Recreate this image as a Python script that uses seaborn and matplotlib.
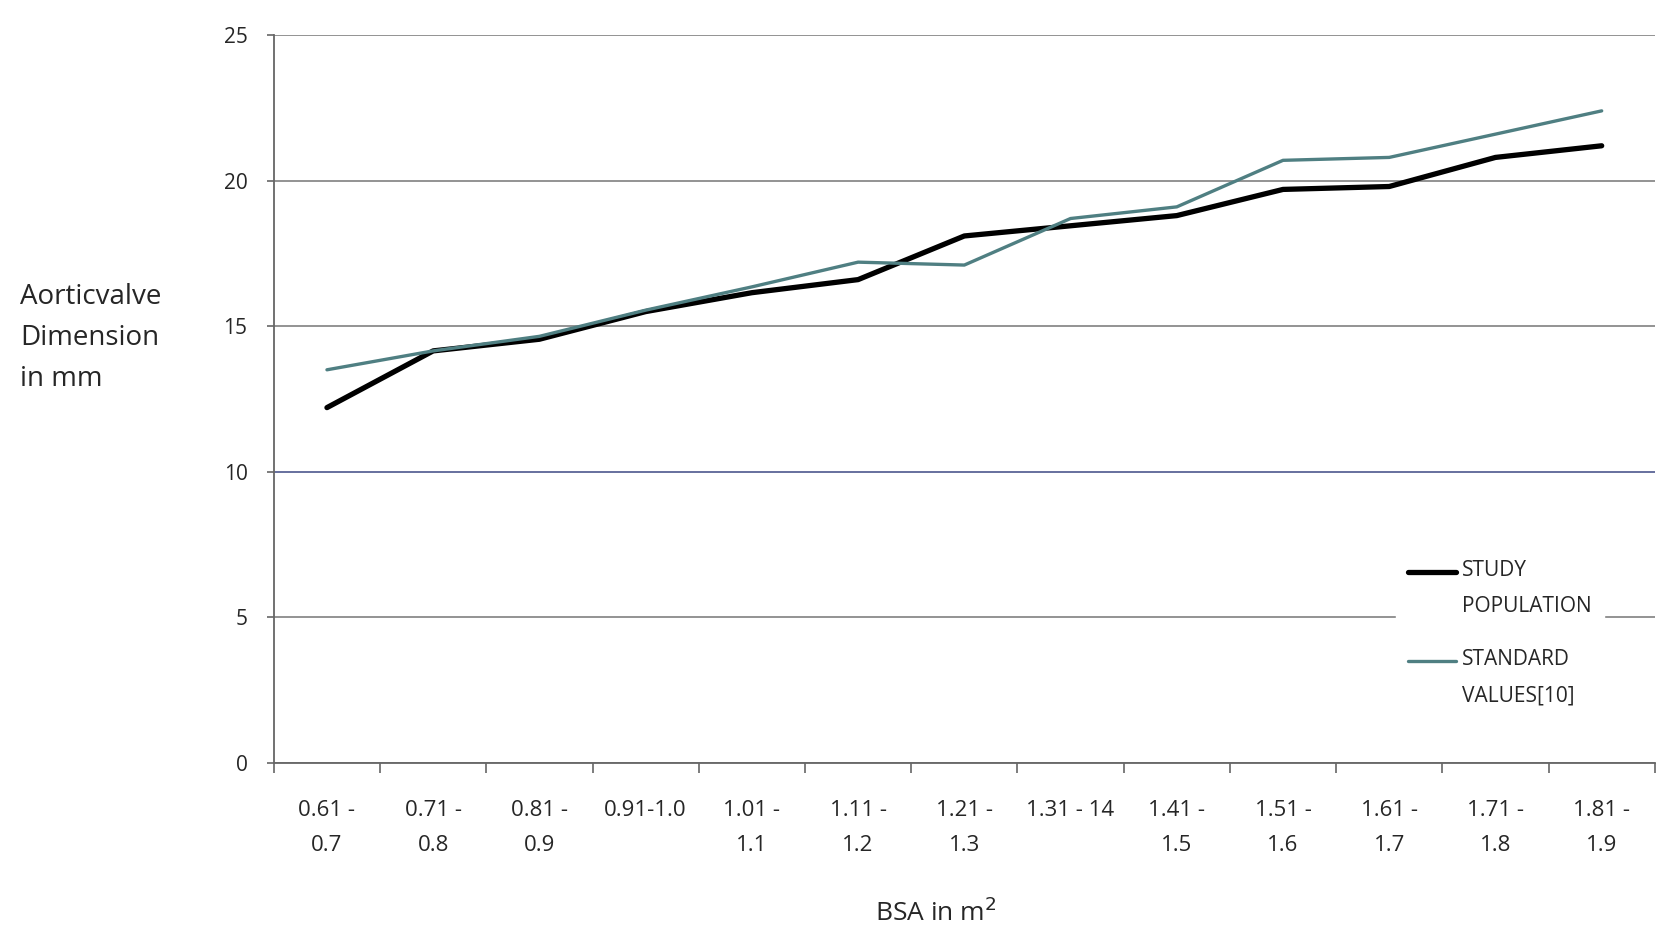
import numpy as np
import pandas as pd
import matplotlib
matplotlib.use("Agg")
import matplotlib.pyplot as plt
import seaborn as sns

# BSA ranges (category order) and the two series
bsa_ranges = ["0.61 -\n0.7", "0.71 -\n0.8", "0.81 -\n0.9", "0.91-1.0", "1.01 -\n1.1",
              "1.11 -\n1.2", "1.21 -\n1.3", "1.31 - 14", "1.41 -\n1.5", "1.51 -\n1.6",
              "1.61 -\n1.7", "1.71 -\n1.8", "1.81 -\n1.9"]
study_population = [12.2, 14.15, 14.55, 15.5, 16.15, 16.6, 18.1, 18.45, 18.8, 19.7, 19.8, 20.8, 21.2]
standard_values = [13.5, 14.15, 14.65, 15.55, 16.35, 17.2, 17.1, 18.7, 19.1, 20.7, 20.8, 21.6, 22.4]
series_names = ["STUDY\nPOPULATION", "STANDARD\nVALUES[10]"]
y_ticks = [0, 5, 10, 15, 20, 25]

df = pd.DataFrame({
    "BSA": bsa_ranges * 2,
    "dim": study_population + standard_values,
    "series": [series_names[0]] * len(bsa_ranges) + [series_names[1]] * len(bsa_ranges),
})

sns.set_theme(style="white")
plt.rcParams["font.family"] = ["Open Sans", "DejaVu Sans"]

fig = plt.figure(figsize=(16.8, 9.52), dpi=100)
ax = fig.add_axes([0.163, 0.199, 0.822, 0.764])

sns.lineplot(data=df, x="BSA", y="dim", hue="series", size="series",
             palette=["black", "#4f7f82"], sizes=[3.8, 2.4], sort=False, ax=ax)

n = len(bsa_ranges)
ax.set_xlim(-0.5, n - 0.5)
ax.set_ylim(0, 25)
ax.set_yticks(y_ticks)
ax.set_xticks(np.arange(n))
ax.set_xticklabels(bsa_ranges, fontsize=16, linespacing=1.85)
ax.set_xticks(np.arange(n + 1) - 0.5, minor=True)
ax.tick_params(axis="x", which="major", length=0, pad=27)
ax.tick_params(axis="x", which="minor", length=7, width=1.2, color="#666666", direction="out", bottom=True)
ax.tick_params(axis="y", length=5, width=1.2, color="#666666", direction="out", left=True, pad=14, labelsize=15)

ax.grid(axis="y", color="#8a8a8a", linewidth=1.3)
ax.yaxis.get_gridlines()[2].set_color("#5a6496")
ax.set_axisbelow(True)

for s in ["top", "right"]:
    ax.spines[s].set_visible(False)
for s in ["left", "bottom"]:
    ax.spines[s].set_color("#666666")
    ax.spines[s].set_linewidth(1.3)

ax.set_xlabel("")
ax.set_ylabel("")
fig.text(0.012, 0.645, "Aorticvalve\nDimension\nin mm", fontsize=20, ha="left", va="center",
         linespacing=1.62)
fig.text(0.557, 0.041, "BSA in m$^2$", fontsize=19, ha="center", va="center")

leg = ax.legend(loc="upper left", bbox_to_anchor=(0.805, 0.31), frameon=True, fontsize=15,
                handlelength=2.3, handletextpad=0.25, labelspacing=1.55, borderpad=0.6)
leg.get_frame().set_facecolor("white")
leg.get_frame().set_edgecolor("white")
leg.get_frame().set_alpha(1)
for t in leg.get_texts():
    t.set_linespacing(1.95)
# handles sit level with the first line of each label
for line in leg.get_lines():
    line.set_ydata(np.asarray(line.get_ydata()) + 12.5)

plt.savefig("out.png", dpi=100)
